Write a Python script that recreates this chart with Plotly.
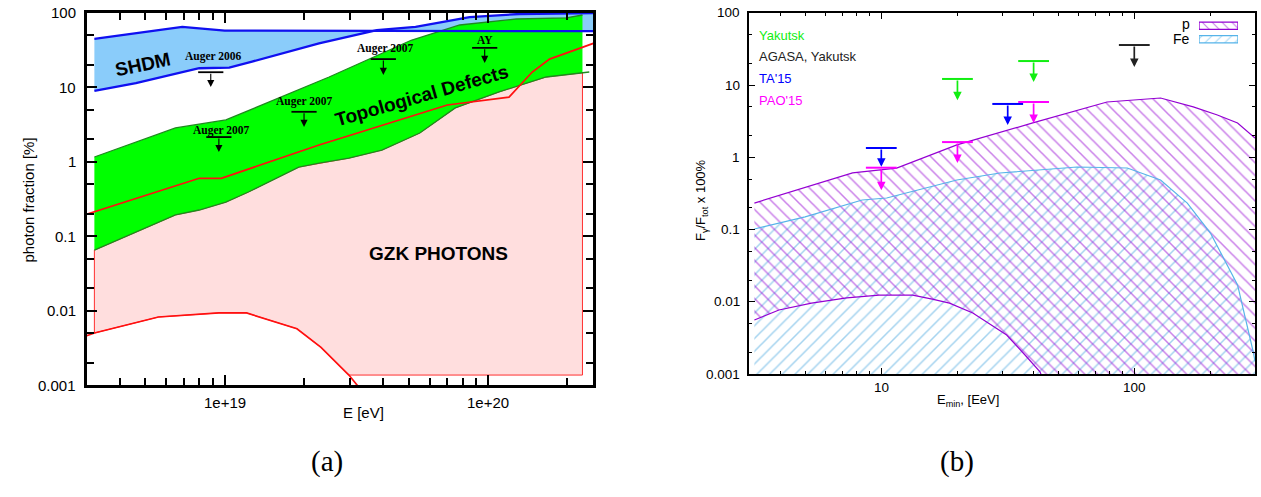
import numpy as np
import plotly.graph_objects as go

W, H = 1261, 497

# ---------------- panel (a): photon fraction vs energy ----------------
# SHDM band
shdm_up_E = [3.2e18, 6.9e18, 1.0e19, 2.5e20]
shdm_up_f = [45, 65, 58, 57]
shdm_lo_E = [3.2e18, 4.6e18, 8.0e18, 1.04e19, 1.27e19, 2.28e19, 3.78e19, 5.3e19, 8.5e19, 1.31e20, 2.5e20]
shdm_lo_f = [9.0, 11.4, 18.1, 18.4, 22.2, 39, 59, 65, 88, 97, 100]

# Topological defects band
td_up_E = [3.2e18, 6.5e18, 1.01e19, 2.49e19, 5.1e19, 7.8e19, 1.28e20, 1.98e20, 2.28e20]
td_up_f = [1.16, 2.85, 3.65, 13.8, 43, 69, 83, 86, 94]
td_lo_E = [3.2e18, 4.8e18, 6.5e18, 8.0e18, 1.01e19, 1.23e19, 1.91e19, 2.28e19, 2.96e19,
           3.95e19, 5.5e19, 7.5e19, 1.10e20, 1.66e20, 2.42e20]
td_lo_f = [0.065, 0.121, 0.193, 0.225, 0.288, 0.393, 0.85, 0.96, 1.12,
           1.44, 2.44, 5.3, 8.7, 13.8, 16.1]

# GZK photons: middle curve, lower curve, floor and upper energy edge
gzk_mid_E = [2.9e18, 8.0e18, 9.7e18, 2.28e19, 7.0e19, 1.2e20, 1.47e20, 1.71e20, 2.53e20]
gzk_mid_f = [0.19, 0.6, 0.6, 1.68, 5.8, 7.4, 16.1, 24, 39.5]
gzk_lo_E = [2.9e18, 3.2e18, 5.6e18, 9.5e18, 1.21e19, 1.88e19, 2.32e19, 2.96e19, 3.29e19]
gzk_lo_f = [0.0044, 0.0050, 0.0082, 0.0093, 0.0093, 0.0057, 0.0032, 0.00136, 0.00086]
gzk_floor = 0.00136
gzk_E_min = 3.2e18
gzk_E_max = 2.28e20

# Upper limits in panel (a)
lim_a_E = [8.85e18, 9.5e18, 2.0e19, 4.0e19, 9.7e19]
lim_a_f = [16, 2.15, 4.7, 24, 34]
lim_a_tip = [10.1, 1.35, 2.94, 14.7, 21.3]
lim_a_lab = ['Auger 2006', 'Auger 2007', 'Auger 2007', 'Auger 2007', 'AY']

# ---------------- panel (b): F_gamma/F_tot vs E_min ----------------
p_up_E = [3.15, 7.7, 11.5, 19.9, 39.7, 78, 127, 171, 213, 256, 300]
p_up_f = [0.233, 0.61, 0.71, 1.49, 3.0, 5.85, 6.65, 5.0, 3.87, 3.0, 1.85]
p_lo_E = [3.15, 3.94, 5.3, 7.3, 9.8, 13.3, 15.9, 18.6, 23.0, 31.3, 37.6, 42.4]
p_lo_f = [0.0056, 0.0077, 0.0096, 0.0113, 0.0124, 0.0124, 0.0109, 0.0096, 0.0070,
          0.00347, 0.00172, 0.00107]
fe_up_E = [3.15, 5.0, 8.4, 10.5, 19.9, 29.4, 59.4, 93.8, 127, 162, 200, 256, 296, 300]
fe_up_f = [0.102, 0.150, 0.257, 0.274, 0.486, 0.608, 0.736, 0.713, 0.486, 0.233,
           0.0897, 0.0171, 0.00195, 0.0015]

lim_b_E = [10, 10, 20, 20, 31.6, 40, 40, 100]
lim_b_f = [1.35, 0.72, 12.2, 1.63, 5.5, 5.85, 21.6, 36]
lim_b_tip = [0.74, 0.35, 6.2, 0.835, 2.81, 3.0, 11.1, 17.9]
lim_b_set = ['TA', 'PAO', 'Yak', 'PAO', 'TA', 'PAO', 'Yak', 'AGASA']

exp_labels = ['Yakutsk', 'AGASA, Yakutsk', "TA'15", "PAO'15"]
exp_colors = {'Yak': '#11ee11', 'AGASA': '#222222', 'TA': '#0000ff', 'PAO': '#ff00ff'}
label_colors = ['#11ee11', '#222222', '#0000ff', '#ff00ff']

# tick values and labels
xa_ticks = [1e19, 1e20]
xa_text = ['1e+19', '1e+20']
xb_ticks = [10, 100]
xb_text = ['10', '100']
y_ticks = [0.001, 0.01, 0.1, 1, 10, 100]
y_text = ['0.001', '0.01', '0.1', '1', '10', '100']

BOTTOM = 0.0009  # below the axis floor, clipped by the plot area


def px_x(p):
    return p / W


def px_y(p):
    return 1 - p / H


def interp_log(E, f, e0):
    return 10 ** np.interp(np.log10(e0), np.log10(E), np.log10(f))


fig = go.Figure()

# ---- panel (a) fills ----
fig.add_trace(go.Scatter(
    x=list(shdm_up_E) + list(shdm_lo_E)[::-1],
    y=list(shdm_up_f) + list(shdm_lo_f)[::-1],
    fill='toself', fillcolor='#8accfa', line=dict(width=0), mode='lines',
    xaxis='x', yaxis='y', hoverinfo='skip'))

# GZK region: lower red curve to the floor, upper edge along the TD lower boundary
lo_E = [e for e, f in zip(gzk_lo_E, gzk_lo_f) if e >= gzk_E_min and f >= gzk_floor]
lo_f = [f for e, f in zip(gzk_lo_E, gzk_lo_f) if e >= gzk_E_min and f >= gzk_floor]
top_E = [e for e in td_lo_E if e <= gzk_E_max] + [gzk_E_max]
top_f = [f for e, f in zip(td_lo_E, td_lo_f) if e <= gzk_E_max] + [interp_log(td_lo_E, td_lo_f, gzk_E_max)]
fig.add_trace(go.Scatter(
    x=lo_E + [gzk_E_max] + top_E[::-1] + [lo_E[0]],
    y=lo_f + [gzk_floor] + top_f[::-1] + [lo_f[0]],
    fill='toself', fillcolor='#ffdede', line=dict(color='#ff3030', width=1), mode='lines',
    xaxis='x', yaxis='y', hoverinfo='skip'))

# TD band
fig.add_trace(go.Scatter(
    x=list(td_up_E) + top_E[::-1],
    y=list(td_up_f) + top_f[::-1],
    fill='toself', fillcolor='#00ff00', line=dict(width=0), mode='lines',
    xaxis='x', yaxis='y', hoverinfo='skip'))

for E, f in ((td_up_E, td_up_f), (td_lo_E, td_lo_f)):
    fig.add_trace(go.Scatter(x=E, y=f, mode='lines', line=dict(color='#1f8a1f', width=1.3),
                             xaxis='x', yaxis='y', hoverinfo='skip'))

for E, f in ((shdm_up_E, shdm_up_f), (shdm_lo_E, shdm_lo_f)):
    fig.add_trace(go.Scatter(x=E, y=f, mode='lines', line=dict(color='#1010f0', width=2.3),
                             xaxis='x', yaxis='y', hoverinfo='skip'))

for E, f in ((gzk_mid_E, gzk_mid_f), (gzk_lo_E, gzk_lo_f)):
    fig.add_trace(go.Scatter(x=E, y=f, mode='lines', line=dict(color='#ff1010', width=1.7),
                             xaxis='x', yaxis='y', hoverinfo='skip'))

# upper limit bars, panel (a)
fig.add_trace(go.Scatter(x=lim_a_E, y=lim_a_f, mode='markers',
                         marker=dict(symbol='line-ew', size=18, line=dict(width=1.8, color='black')),
                         xaxis='x', yaxis='y', hoverinfo='skip'))

# ---- panel (b) fills ----
fig.add_trace(go.Scatter(
    x=list(fe_up_E) + [fe_up_E[-1], fe_up_E[0]],
    y=list(fe_up_f) + [BOTTOM, BOTTOM],
    fill='toself', fillcolor='rgba(0,0,0,0)', mode='lines', line=dict(width=0),
    fillpattern=dict(shape='/', fgcolor='#4aa8e0', bgcolor='rgba(0,0,0,0)', size=9, solidity=0.17),
    xaxis='x2', yaxis='y2', hoverinfo='skip'))
fig.add_trace(go.Scatter(
    x=list(p_up_E) + [p_up_E[-1], p_lo_E[-1]] + list(p_lo_E)[::-1],
    y=list(p_up_f) + [BOTTOM, BOTTOM] + list(p_lo_f)[::-1],
    fill='toself', fillcolor='rgba(0,0,0,0)', mode='lines', line=dict(width=0),
    fillpattern=dict(shape='\\', fgcolor='#9400d3', bgcolor='rgba(0,0,0,0)', size=9, solidity=0.17),
    xaxis='x2', yaxis='y2', hoverinfo='skip'))

fig.add_trace(go.Scatter(x=fe_up_E, y=fe_up_f, mode='lines', line=dict(color='#56b4e9', width=1.2),
                         xaxis='x2', yaxis='y2', hoverinfo='skip'))
for E, f in ((p_up_E, p_up_f), (p_lo_E + [p_lo_E[-1] * 1.02], p_lo_f + [BOTTOM])):
    fig.add_trace(go.Scatter(x=E, y=f, mode='lines', line=dict(color='#9400d3', width=1.2),
                             xaxis='x2', yaxis='y2', hoverinfo='skip'))

fig.add_trace(go.Scatter(x=lim_b_E, y=lim_b_f, mode='markers',
                         marker=dict(symbol='line-ew', size=22,
                                     line=dict(width=2, color=[exp_colors[s] for s in lim_b_set])),
                         xaxis='x2', yaxis='y2', hoverinfo='skip'))

# ---- legend swatches (panel b) ----
fig.add_trace(go.Bar(x=[1], y=[1], orientation='h', width=0.55,
                     marker=dict(color='white', line=dict(color='#9400d3', width=1.3),
                                 pattern=dict(shape='\\', fgcolor='#9400d3', bgcolor='white',
                                              size=7, solidity=0.17)),
                     xaxis='x3', yaxis='y3', hoverinfo='skip'))
fig.add_trace(go.Bar(x=[1], y=[0], orientation='h', width=0.55,
                     marker=dict(color='white', line=dict(color='#56b4e9', width=1.3),
                                 pattern=dict(shape='/', fgcolor='#56b4e9', bgcolor='white',
                                              size=7, solidity=0.17)),
                     xaxis='x3', yaxis='y3', hoverinfo='skip'))

annotations = []

# arrows of the upper limits
for E, f, t in zip(lim_a_E, lim_a_f, lim_a_tip):
    annotations.append(dict(x=np.log10(E), y=np.log10(t), ax=np.log10(E), ay=np.log10(f),
                            xref='x', yref='y', axref='x', ayref='y', text='', showarrow=True,
                            arrowhead=2, arrowsize=1.3, arrowwidth=1.1, arrowcolor='black',
                            standoff=0, startstandoff=0))
for E, f, t, s in zip(lim_b_E, lim_b_f, lim_b_tip, lim_b_set):
    annotations.append(dict(x=np.log10(E), y=np.log10(t), ax=np.log10(E), ay=np.log10(f),
                            xref='x2', yref='y2', axref='x2', ayref='y2', text='', showarrow=True,
                            arrowhead=2, arrowsize=1.0, arrowwidth=1.7, arrowcolor=exp_colors[s],
                            standoff=0, startstandoff=0))

# experiment labels above the limits in panel (a)
lab_dx = [3, 3, 0, 2, 0]
lab_dy = [16, 7, 10, 11, 8]
for E, f, lab, dx, dy in zip(lim_a_E, lim_a_f, lim_a_lab, lab_dx, lab_dy):
    annotations.append(dict(x=np.log10(E), y=np.log10(f), xref='x', yref='y', text='<b>%s</b>' % lab,
                            showarrow=False, xshift=dx, yshift=dy,
                            font=dict(family='Liberation Serif', size=11.5, color='black')))

# region names in panel (a)
region_txt = ['SHDM', 'Topological Defects', 'GZK PHOTONS']
region_E = [4.88e18, 5.6e19, 6.45e19]
region_f = [20, 7.9, 0.0594]
region_ang = [-12, -16, 0]
for t, E, f, a in zip(region_txt, region_E, region_f, region_ang):
    annotations.append(dict(x=np.log10(E), y=np.log10(f), xref='x', yref='y', text='<b>%s</b>' % t,
                            showarrow=False, textangle=a,
                            font=dict(family='Liberation Sans', size=19, color='black')))

# experiment names in panel (b)
for i, (t, c) in enumerate(zip(exp_labels, label_colors)):
    annotations.append(dict(x=px_x(757), y=px_y(35 + 21.7 * i), xref='paper', yref='paper', text=t,
                            showarrow=False, xanchor='left', yanchor='middle',
                            font=dict(family='Liberation Sans', size=13, color=c)))

# legend texts
for t, py in (('p', 24), ('Fe', 39)):
    annotations.append(dict(x=px_x(1192), y=px_y(py), xref='paper', yref='paper', text=t,
                            showarrow=False, xanchor='right', yanchor='middle',
                            font=dict(family='Liberation Sans', size=14, color='black')))

# tick labels, placed at the tick values with a fixed gap from the frame
tick_font_a = dict(family='Liberation Sans', size=15, color='black')
tick_font_b = dict(family='Liberation Sans', size=13.5, color='black')
for v, t in zip(xa_ticks, xa_text):
    annotations.append(dict(x=np.log10(v), y=px_y(402), xref='x', yref='paper', text=t,
                            showarrow=False, yanchor='middle', font=tick_font_a))
for v, t in zip(y_ticks, y_text):
    annotations.append(dict(x=px_x(78), y=np.log10(v), xref='paper', yref='y', text=t,
                            showarrow=False, xanchor='right', yanchor='middle', font=tick_font_a))
for v, t in zip(xb_ticks, xb_text):
    annotations.append(dict(x=np.log10(v), y=px_y(387), xref='x2', yref='paper', text=t,
                            showarrow=False, yanchor='middle', font=tick_font_b))
for v, t in zip(y_ticks, y_text):
    annotations.append(dict(x=px_x(742), y=np.log10(v), xref='paper', yref='y2', text=t,
                            showarrow=False, xanchor='right', yanchor='middle', font=tick_font_b))

# axis titles and panel labels
axis_font = dict(family='Liberation Sans', color='black')
annotations += [
    dict(x=px_x(17), y=px_y(200), xref='paper', yref='paper', text='photon fraction [%]',
         textangle=-90, showarrow=False, font=dict(size=15, **axis_font)),
    dict(x=px_x(341), y=px_y(423), xref='paper', yref='paper', text='E [eV]',
         showarrow=False, font=dict(size=15, **axis_font)),
    dict(x=px_x(701), y=px_y(200), xref='paper', yref='paper',
         text='F<sub>γ</sub>/F<sub>tot</sub> x 100%',
         textangle=-90, showarrow=False, font=dict(size=13, **axis_font)),
    dict(x=px_x(1001), y=px_y(411), xref='paper', yref='paper', text='E<sub>min</sub>, [EeV]',
         showarrow=False, font=dict(size=13, **axis_font)),
    dict(x=px_x(309), y=px_y(480), xref='paper', yref='paper', text='(a)',
         showarrow=False, font=dict(family='Liberation Serif', size=29, color='black')),
    dict(x=px_x(976), y=px_y(480), xref='paper', yref='paper', text='(b)',
         showarrow=False, font=dict(family='Liberation Serif', size=29, color='black')),
]


def frame_axis(domain, rng, tickvals, minor_dtick, lw, tw, major_len, minor_len, anchor):
    # frame with inside major/minor ticks mirrored on all four sides
    return dict(type='log', domain=domain, range=rng, tickmode='array', tickvals=tickvals,
                showticklabels=False,
                ticks='inside', ticklen=major_len, tickwidth=tw, tickcolor='black',
                minor=dict(dtick=minor_dtick, ticks='inside', ticklen=minor_len,
                           tickwidth=tw, tickcolor='black', showgrid=False),
                showline=True, linecolor='black', linewidth=lw, mirror='allticks',
                showgrid=False, zeroline=False, anchor=anchor)


fig.update_layout(
    width=W, height=H, margin=dict(l=0, r=0, t=0, b=0),
    paper_bgcolor='white', plot_bgcolor='white', showlegend=False,
    xaxis=frame_axis([px_x(87), px_x(593)], [np.log10(3e18), np.log10(2.5e20)], xa_ticks,
                     'D1', 2.5, 1.8, 10, 7, 'y'),
    yaxis=frame_axis([px_y(385), px_y(13)], [-3, 2], y_ticks, 'D2', 2.5, 1.8, 10, 7, 'x'),
    xaxis2=frame_axis([px_x(749), px_x(1255)], [np.log10(3), np.log10(300)], xb_ticks,
                      'D1', 2, 1, 6, 3, 'y2'),
    yaxis2=frame_axis([px_y(374), px_y(13)], [-3, 2], y_ticks, 'D2', 2, 1, 6, 3, 'x2'),
    xaxis3=dict(domain=[px_x(1199), px_x(1238)], range=[0, 1], visible=False, anchor='y3',
                fixedrange=True),
    yaxis3=dict(domain=[px_y(46), px_y(19)], range=[-0.5, 1.5], visible=False, anchor='x3',
                fixedrange=True),
    annotations=annotations,
)

fig.write_html("out.html")
